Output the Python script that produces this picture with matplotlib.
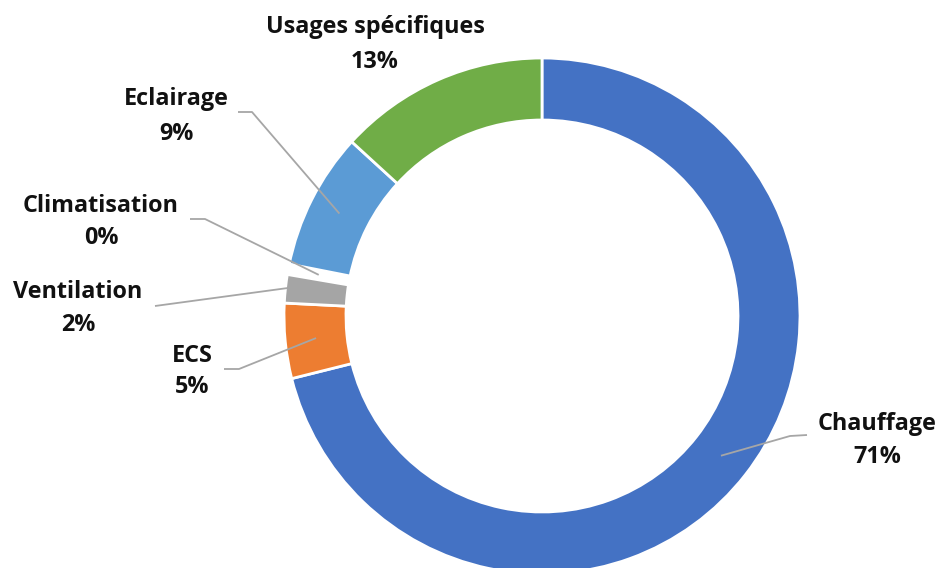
import matplotlib.pyplot as plt
import numpy as np

categories = ["Chauffage", "ECS", "Ventilation", "Climatisation", "Eclairage", "Usages spécifiques"]
shares = [71.1, 4.7, 1.9, 0.4, 8.7, 13.2]
colors = ["#4472C4", "#ED7D31", "#A5A5A5", "#FFC000", "#5B9BD5", "#70AD47"]

# picture geometry in pixels (941x568 image)
W, H = 941, 568
CX, CY, R = 542, 316, 258


def px(x, y):
    # pixel position -> data units of the pie (radius 1)
    return (x - CX) / R, (CY - y) / R


# label: centre x, baseline of name, baseline of %, anchor radius, leader points (px)
layout = {
    "Chauffage": (877, 430, 463, 0.88, [(790, 436), (807, 435)]),
    "ECS": (192, 362, 393, 0.88, [(239, 369), (224, 369)]),
    "Ventilation": (78, 298, 331, 0.99, [(155, 306)]),
    "Climatisation": (101, 212, 244, 0.88, [(205, 219), (190, 219)]),
    "Eclairage": (176, 105, 140, 0.88, [(252, 112), (238, 112)]),
    "Usages spécifiques": (375, 33, 68, None, []),
}

fig = plt.figure(figsize=(W / 100, H / 100), dpi=100)
ax = fig.add_axes([0, 0, 1, 1])

wedges, _ = ax.pie(shares, colors=colors, startangle=90, counterclock=False,
                   radius=1, wedgeprops=dict(width=62 / 258, edgecolor="white", linewidth=2))
# the 0% slice hardly shows in the original, the white border eats it
wedges[3].set_linewidth(5)
wedges[3].set_zorder(3)

ax.set_xlim(-CX / R, (W - CX) / R)
ax.set_ylim((CY - H) / R, CY / R)
ax.set_aspect("auto")
ax.axis("off")

font = dict(family=["Open Sans", "DejaVu Sans"], fontweight="bold", fontsize=16.8, color="#111111")

for w, name, val in zip(wedges, categories, shares):
    cx, base1, base2, r_anchor, pts = layout[name]
    tx, ty = px(cx, base1)
    ax.text(tx, ty, name, ha="center", va="baseline", **font)
    tx, ty = px(cx, base2)
    ax.text(tx, ty, f"{round(val)}%", ha="center", va="baseline", **font)
    if r_anchor is not None:
        mid = np.deg2rad((w.theta1 + w.theta2) / 2)
        xs = [r_anchor * np.cos(mid)] + [px(*p)[0] for p in pts]
        ys = [r_anchor * np.sin(mid)] + [px(*p)[1] for p in pts]
        ax.plot(xs, ys, color="#A6A6A6", lw=1.3, solid_capstyle="butt", zorder=4)

fig.savefig("out.png", dpi=100)
